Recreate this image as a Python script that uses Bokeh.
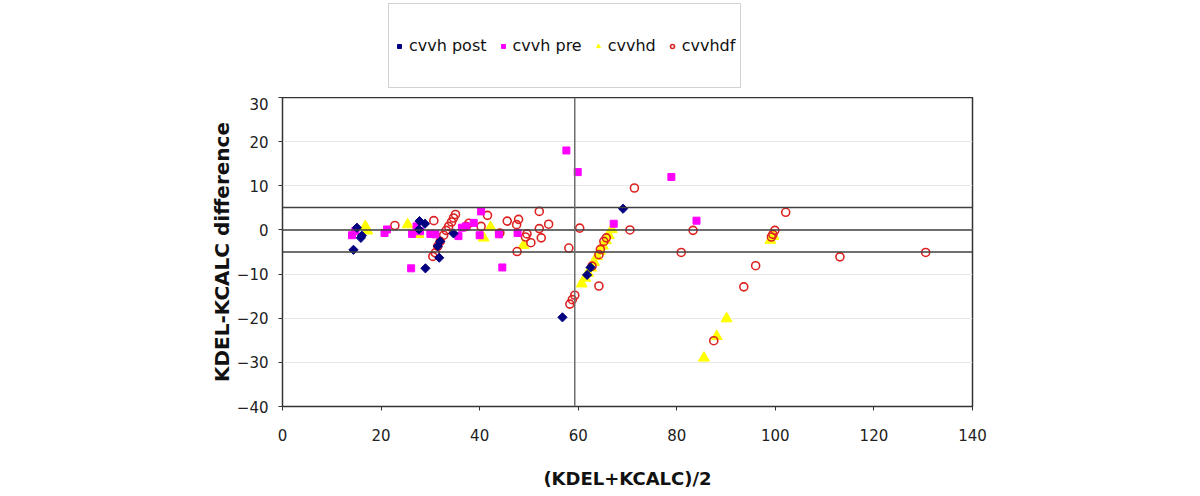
import math
from bokeh.plotting import figure
from bokeh.layouts import column
from bokeh.models import Range1d, Span, Legend, LegendItem, FixedTicker
from bokeh.embed import file_html
from bokeh.resources import INLINE

# ---------------- data ----------------
series_names = ["cvvh post", "cvvh pre", "cvvhd", "cvvhdf"]

post_x = [14.4, 15.1, 15.9, 16.1, 27.8, 28.9, 27.7, 29.0, 31.8, 32.0, 31.5, 34.7, 56.8, 62.5, 61.8, 69.1]
post_y = [-4.5, 0.5, -1.8, -1.3, 2.0, 1.4, 0.1, -8.7, -6.3, -2.6, -3.7, -0.8, -19.8, -8.5, -10.2, 4.8]

pre_x = [14.1, 14.8, 20.7, 21.2, 26.1, 26.3, 27.2, 27.9, 30.0, 31.0, 35.7, 36.4, 37.2, 38.8, 40.0,
         40.3, 43.9, 44.6, 47.7, 57.6, 59.9, 67.2, 78.9, 84.0]
pre_y = [-1.2, -0.2, -0.7, 0.1, -8.7, -0.9, 0.8, -0.3, -0.9, -1.0, -1.4, 0.5, 0.8, 1.6, -1.2,
         4.2, -1.0, -8.5, -0.7, 18.0, 13.1, 1.4, 12.0, 2.1]

hd_x = [16.8, 17.2, 25.4, 27.6, 40.8, 42.2, 48.9, 60.7, 61.4, 62.0, 62.6, 63.2, 63.8, 64.4, 65.0,
        65.6, 66.2, 66.8, 85.5, 88.1, 90.1, 99.0, 99.6]
hd_y = [0.8, -0.2, 1.2, -1.0, -1.8, 0.6, -3.5, -12.2, -10.9, -9.8, -8.6, -7.3, -6.0, -4.8, -3.6,
        -2.4, -1.2, 0.1, -29.0, -24.1, -20.1, -2.3, -1.4]

hdf_x = [22.8, 30.7, 30.5, 31.0, 31.5, 32.0, 32.7, 33.2, 33.7, 34.3, 34.7, 35.1, 37.3, 37.8, 40.3,
         41.6, 44.1, 45.6, 47.5, 47.9, 47.6, 49.6, 49.3, 50.4, 52.1, 52.1, 52.5, 54.0, 58.1, 58.3,
         58.8, 59.3, 60.3, 62.8, 64.2, 64.2, 64.5, 65.2, 65.7, 70.5, 71.4, 80.9, 83.3, 87.5, 93.6,
         96.0, 99.2, 99.5, 99.9, 102.1, 113.1, 130.5]
hdf_y = [1.0, 2.1, -6.0, -5.2, -3.7, -2.6, -1.2, -0.1, 0.8, 1.8, 2.7, 3.5, 0.8, 1.5, 0.8,
         3.3, -0.7, 2.0, 1.2, 2.4, -4.9, -0.9, -1.6, -2.9, 4.2, 0.3, -1.8, 1.3, -4.1, -16.8,
         -15.8, -14.8, 0.4, -8.2, -12.7, -5.6, -4.4, -2.6, -1.8, 0.0, 9.5, -5.1, -0.1, -25.1, -12.9,
         -8.1, -1.6, -1.0, -0.1, 4.0, -6.1, -5.1]

mean_diff = 0.0
upper_limit = 5.1
lower_limit = -5.0
mean_average = 59.3

x_ticks = [0, 20, 40, 60, 80, 100, 120, 140]
y_ticks = [-40, -30, -20, -10, 0, 10, 20, 30]

x_label = "(KDEL+KCALC)/2"
y_label = "KDEL-KCALC difference"

# marker styles per series
styles = {
    "cvvh post": dict(marker="square", angle=math.pi / 4, size=6.5, fill_color="#000080", line_color="#000080"),
    "cvvh pre": dict(marker="square", size=7, fill_color="#ff00ff", line_color="#ff00ff"),
    "cvvhd": dict(marker="triangle", size=11, fill_color="#ffff00", line_color="#ffff00"),
    "cvvhdf": dict(marker="circle", size=8, fill_color=None, line_color="#dd2222", line_width=1.6),
}

# ---------------- legend strip (top) ----------------
leg = figure(width=1200, height=97, output_backend="svg", toolbar_location=None,
             x_axis_location=None, y_axis_location=None, min_border=0,
             x_range=Range1d(0, 1), y_range=Range1d(0, 1))
leg.outline_line_color = None
leg.xgrid.grid_line_color = None
leg.ygrid.grid_line_color = None
leg.background_fill_color = "white"
leg.border_fill_color = "white"
items = []
for name in series_names:
    # off-screen placeholder point so the legend swatch is drawn
    r = leg.scatter([-5], [-5], **styles[name])
    items.append(LegendItem(label=name, renderers=[r]))
legend = Legend(items=items, orientation="horizontal", location=(106, 9),
                label_text_font="DejaVu Sans", label_text_font_size="16px", label_text_color="#111111",
                glyph_width=10, glyph_height=12, label_standoff=5, spacing=11, padding=5, margin=0,
                label_height=73, border_line_color="#a6a6a6", border_line_width=1,
                background_fill_color="white", background_fill_alpha=1.0)
leg.add_layout(legend, "center")

# ---------------- main chart ----------------
p = figure(width=1200, height=399, output_backend="svg", toolbar_location=None,
           x_range=Range1d(0, 140), y_range=Range1d(-40, 30),
           min_border_left=282, min_border_right=228, min_border_top=0, min_border_bottom=90)

p.background_fill_color = "white"
p.border_fill_color = "white"
p.outline_line_color = "#333333"
p.outline_line_width = 1.5

p.xgrid.grid_line_color = None
p.ygrid.grid_line_color = "#e8e8e8"
p.ygrid.grid_line_width = 1

p.xaxis.ticker = FixedTicker(ticks=x_ticks)
p.yaxis.ticker = FixedTicker(ticks=y_ticks)
for ax in (p.xaxis, p.yaxis):
    ax.axis_line_color = None
    ax.major_tick_line_color = "#333333"
    ax.major_tick_in = 0
    ax.major_tick_out = 4
    ax.minor_tick_line_color = None
    ax.major_label_text_font = "DejaVu Sans"
    ax.major_label_text_font_size = "15px"
    ax.major_label_text_color = "#222222"
    ax.axis_label_text_font = "DejaVu Sans"
    ax.axis_label_text_font_style = "bold"
    ax.axis_label_text_color = "#111111"

p.yaxis.major_label_standoff = 10
p.xaxis.major_label_standoff = 18
p.xaxis.axis_label = x_label
p.yaxis.axis_label = y_label
p.xaxis.axis_label_text_font_size = "18px"
p.yaxis.axis_label_text_font_size = "20px"
p.xaxis.axis_label_standoff = 24
p.yaxis.axis_label_standoff = 0

# reference lines
for loc in (upper_limit, mean_diff, lower_limit):
    p.add_layout(Span(location=loc, dimension="width", line_color="#404040", line_width=1.5))
p.add_layout(Span(location=mean_average, dimension="height", line_color="#6e6e6e", line_width=1.5))

# series (drawn so that navy diamonds end on top)
p.scatter(hd_x, hd_y, **styles["cvvhd"])
p.scatter(hdf_x, hdf_y, **styles["cvvhdf"])
p.scatter(pre_x, pre_y, **styles["cvvh pre"])
p.scatter(post_x, post_y, **styles["cvvh post"])

layout = column(leg, p, spacing=0)
open("out.html", "w").write(file_html(layout, INLINE))
